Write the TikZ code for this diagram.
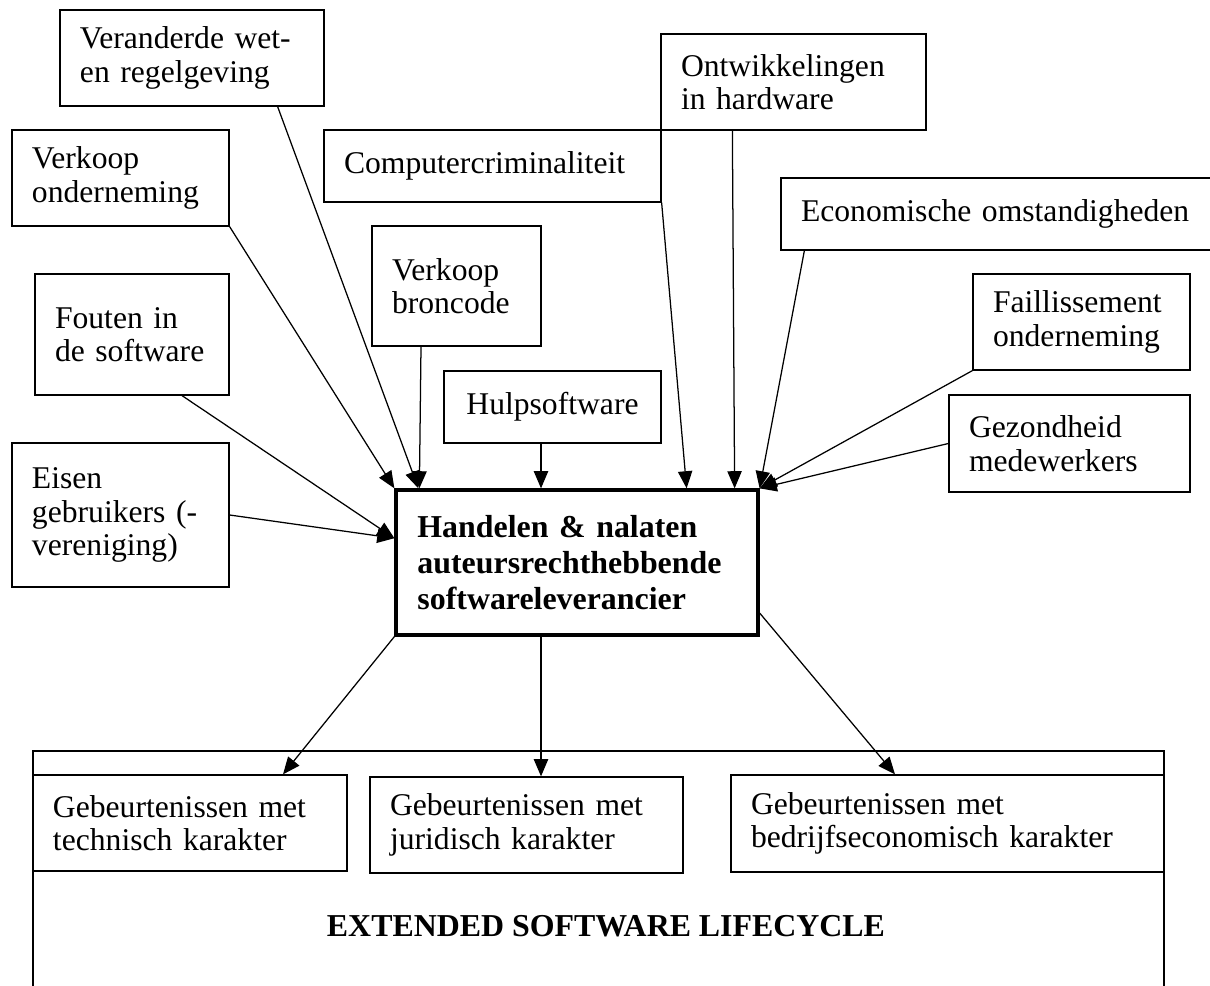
\documentclass[tikz,border=0pt]{standalone}
\usepackage{fontspec}
\setmainfont{Liberation Serif}
\usetikzlibrary{arrows.meta, positioning}
\tikzset{
  cause/.style={rectangle, draw=black, line width=0.5pt,
                inner xsep=0.28cm, inner ysep=0pt, align=left,
                font=\fontsize{12.6}{13.3}\selectfont},
  actor/.style={rectangle, draw=black, line width=1.3pt,
                inner xsep=0.3cm, inner ysep=0pt, align=left,
                font=\fontsize{12.7}{14.4}\selectfont\bfseries},
  eventbox/.style={cause},
  lifeframe/.style={rectangle, draw=black, line width=0.5pt, inner sep=0pt},
  link/.style={-{Triangle[length=2.4mm,width=2mm]}, line width=0.5pt, draw=black},
}

\begin{document}
\begin{tikzpicture}[x=1cm, y=1cm]
  \useasboundingbox (0,0) rectangle (16.94,13.79);

  % --- Influences (top and sides) ---
  \node[cause, text width=3.136cm, minimum height=1.344cm] (wet) at (2.688,12.978)
       {Veranderde wet-\\en regelgeving};
  \node[cause, text width=2.478cm, minimum height=1.344cm] (vko) at (1.687,11.298)
       {Verkoop\\onderneming};
  \node[cause, text width=4.158cm, minimum height=1.008cm] (ccr) at (6.895,11.466)
       {Computercriminaliteit};
  \node[cause, text width=3.15cm, minimum height=1.344cm] (hw) at (11.109,12.642)
       {Ontwikkelingen\\in hardware};
  \node[cause, text width=1.806cm, minimum height=1.68cm] (brc) at (6.391,9.786)
       {Verkoop\\broncode};
  \node[cause, text width=5.516cm, minimum height=1.008cm] (eco) at (13.972,10.794)
       {Economische omstandigheden};
  \node[cause, text width=2.156cm, minimum height=1.694cm] (fout) at (1.848,9.107)
       {Fouten in\\de software};
  \node[cause, text width=2.478cm, minimum height=2.016cm] (eisen) at (1.687,6.58)
       {Eisen\\gebruikers (-\\vereniging)};
  \node[cause, align=center, text width=2.478cm, minimum height=1.008cm] (hulp) at (7.735,8.092)
       {Hulpsoftware};
  \node[cause, text width=2.478cm, minimum height=1.344cm] (fail) at (15.141,9.282)
       {Faillissement\\onderneming};
  \node[cause, text width=2.814cm, minimum height=1.358cm] (gez) at (14.973,7.581)
       {Gezondheid\\medewerkers};

  % --- Central actor ---
  \node[actor, text width=4.468cm, minimum height=2.03cm] (main) at (8.078,5.915)
       {Handelen \& nalaten\\auteursrechthebbende\\softwareleverancier};

  % --- Extended software lifecycle (runs off the bottom) ---
  \node[lifeframe, minimum width=15.834cm, minimum height=3.57cm] (life) at (8.379,1.49) {};
  \node[eventbox, text width=3.836cm, minimum height=1.344cm] (tech) at (2.66,2.268)
       {Gebeurtenissen met\\technisch karakter};
  \node[eventbox, text width=3.822cm, minimum height=1.344cm] (jur) at (7.371,2.24)
       {Gebeurtenissen met\\juridisch karakter};
  \node[eventbox, text width=5.502cm, minimum height=1.358cm] (bed) at (13.265,2.261)
       {Gebeurtenissen met\\bedrijfseconomisch karakter};
  \node[font=\fontsize{12.7}{14}\selectfont\bfseries] (elc) at (8.484,0.826)
       {EXTENDED SOFTWARE LIFECYCLE};

  % --- Influences into the actor ---
  \draw[link] ([xshift=-0.658cm]wet.south east) -- ([xshift=0.336cm]main.north west);
  \draw[link] (vko.south east) -- (main.north west);
  \draw[link] ([xshift=-0.497cm]brc.south) -- ([xshift=0.35cm]main.north west);
  \draw[link] ([xshift=0.7cm]fout.south) -- ([yshift=0.34cm]main.west);
  \draw[link] (eisen.east) -- ([yshift=0.34cm]main.west);
  \draw[link] ([xshift=-0.161cm]hulp.south) -- ([xshift=-0.504cm]main.north);
  \draw[link] (ccr.south east) -- ([xshift=-1.022cm]main.north east);
  \draw[link] ([xshift=1.008cm]hw.south west) -- ([xshift=-0.35cm]main.north east);
  \draw[link] ([xshift=0.336cm]eco.south west) -- (main.north east);
  \draw[link] (fail.south west) -- (main.north east);
  \draw[link] (gez.west) -- (main.north east);

  % --- Actor into the lifecycle events ---
  \draw[link] (main.south west) -- ([xshift=1.302cm]tech.north);
  \draw[link] ([xshift=-0.504cm]main.south) -- ([xshift=0.203cm]jur.north);
  \draw[link] ([yshift=-0.707cm]main.east) -- ([xshift=-0.735cm]bed.north);

\end{tikzpicture}
\end{document}
